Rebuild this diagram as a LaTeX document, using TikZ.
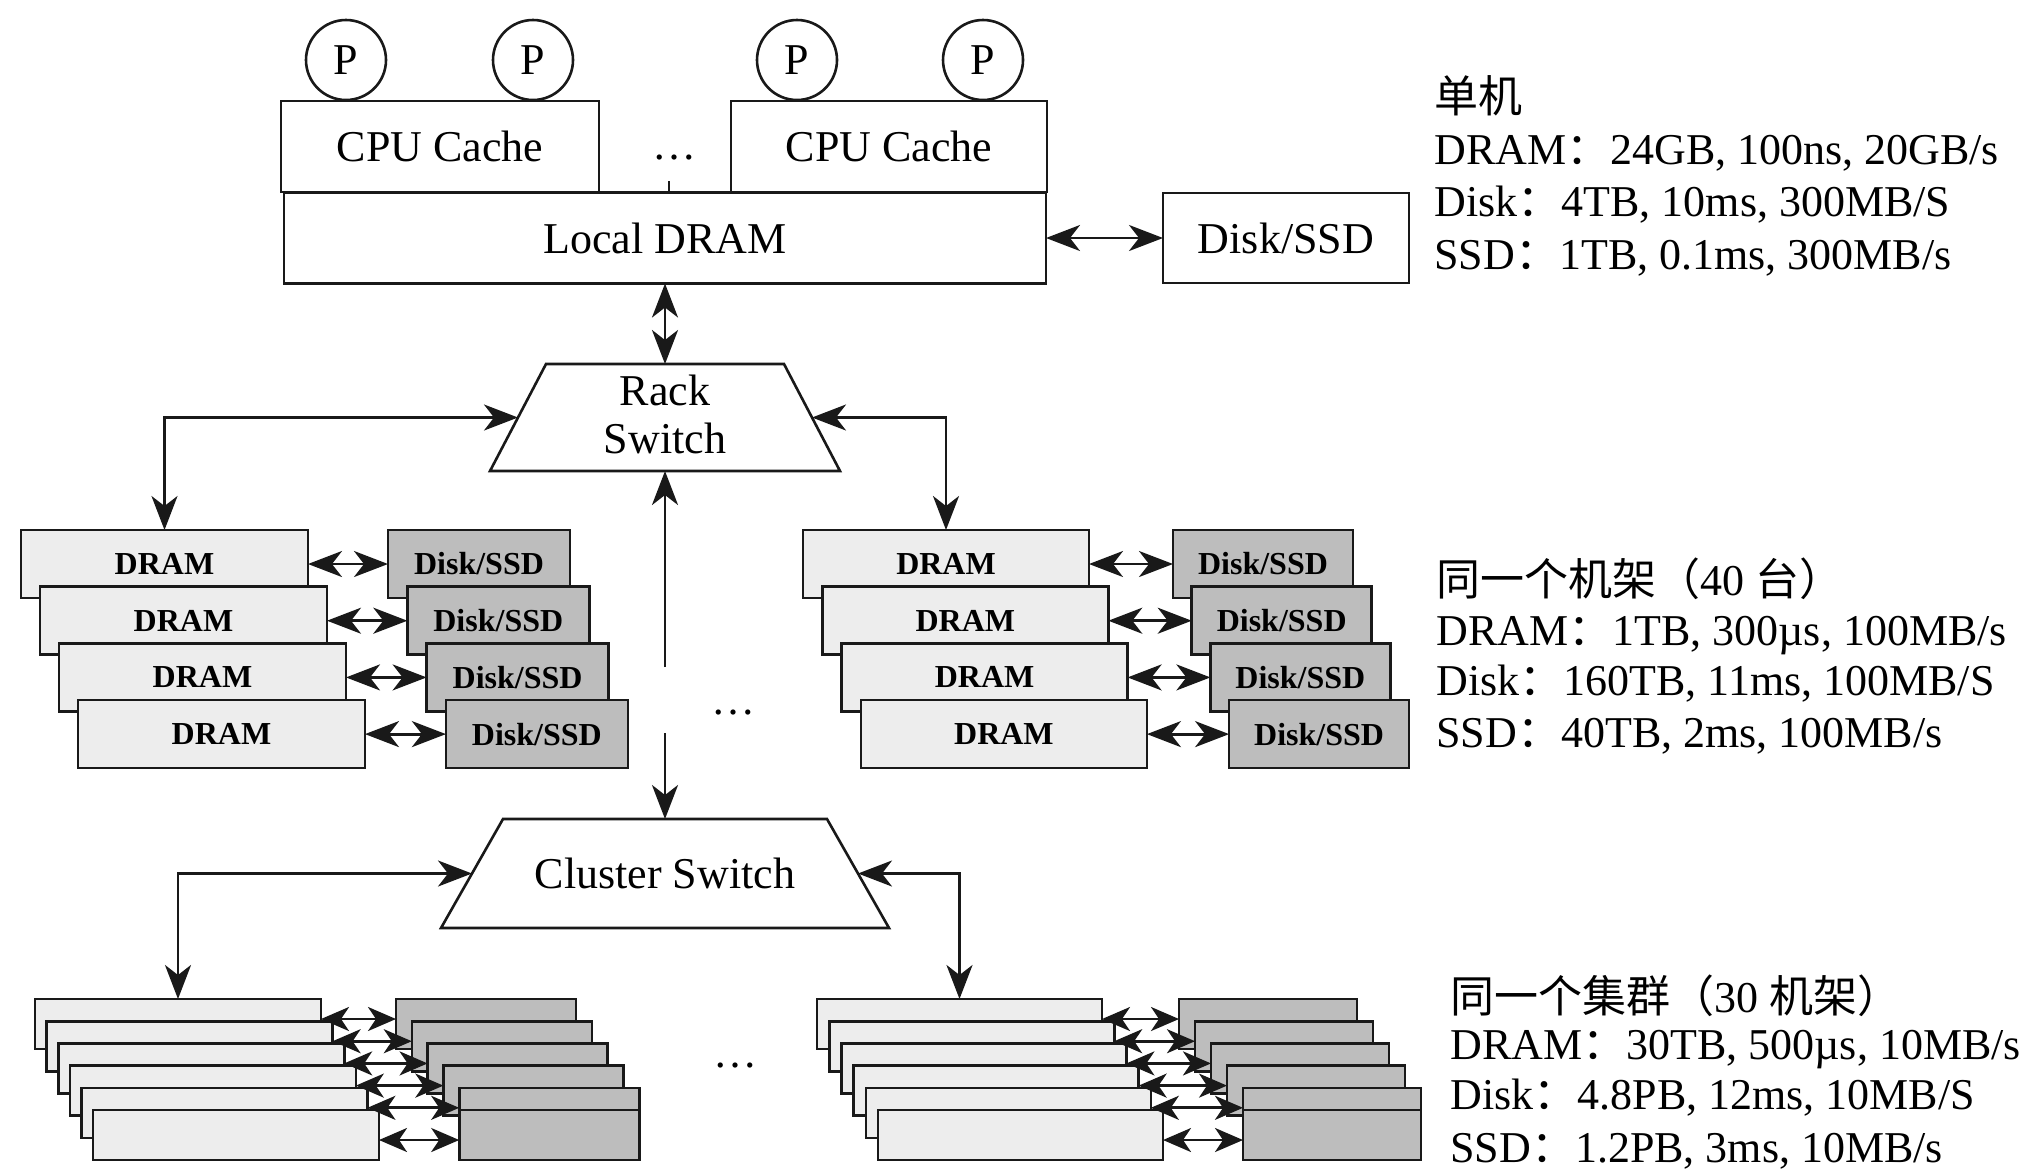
\documentclass[tikz,border=0pt]{standalone}
\usepackage{fontspec}
\setmainfont{Liberation Serif}
\newfontfamily\cjk{Noto Sans CJK SC}
\usetikzlibrary{arrows.meta,calc}
\definecolor{dramfill}{gray}{0.93}
\definecolor{diskfill}{gray}{0.74}
\definecolor{inkc}{gray}{0.1}
\begin{document}
\begin{tikzpicture}[x=0.5pt,y=-0.5pt,
  >={Stealth[length=17pt,width=13pt,inset=5pt]},
  ln/.style={line width=1.3pt, draw=inkc},
  con/.style={line width=1.4pt, draw=inkc},
  big/.style={font=\fontsize{22}{24}\selectfont},
  wbox/.style={ln, fill=white, rectangle, inner sep=0pt, outer sep=0pt, big},
  dram/.style={ln, fill=dramfill, rectangle, inner sep=0pt, outer sep=0pt, font=\bfseries\fontsize{16}{18}\selectfont},
  disk/.style={ln, fill=diskfill, rectangle, inner sep=0pt, outer sep=0pt, font=\bfseries\fontsize{16}{18}\selectfont},
  proc/.style={ln, fill=white, circle, inner sep=0pt, outer sep=0pt, minimum size=40pt, big},
  lbl/.style={anchor=base west, inner sep=0pt, big},
  dotsn/.style={inner sep=0pt, big},
]
\useasboundingbox (0,0) rectangle (2032,1169);

% ---------- single machine ----------
\node[wbox, minimum width=159pt, minimum height=45.5pt] (cache1) at (440,146.5) {CPU Cache};
\node[wbox, minimum width=158pt, minimum height=45.5pt] (cache2) at (889,146.5) {CPU Cache};
\node[wbox, minimum width=381pt, minimum height=45.5pt] (ldram) at (665,238) {Local DRAM};
\node[wbox, minimum width=123pt, minimum height=45pt] (disk0) at (1286,238) {Disk/SSD};
\node[proc] (p1) at (346,60) {P};
\node[proc] (p2) at (533,60) {P};
\node[proc] (p3) at (797,60) {P};
\node[proc] (p4) at (983,60) {P};
\node[dotsn] (dotsA) at (674,158) {\ldots};
\draw[con] ([xshift=2pt]ldram.north) -- ++(0,-12);
\draw[con,<->] (ldram.east) -- (disk0.west);

% ---------- rack switch ----------
\coordinate (rtl) at (546,364);
\coordinate (rtr) at (784,364);
\coordinate (rbr) at (840,471);
\coordinate (rbl) at (490,471);
\draw[ln, fill=white] (rtl) -- (rtr) -- (rbr) -- (rbl) -- cycle;
\node[big, align=center, inner sep=0pt] (rack) at (665,414) {Rack\\Switch};
\coordinate (rackL) at ($(rtl)!0.5!(rbl)$);
\coordinate (rackR) at ($(rtr)!0.5!(rbr)$);
\coordinate (rackT) at ($(rtl)!0.5!(rtr)$);
\coordinate (rackB) at ($(rbl)!0.5!(rbr)$);
\draw[con,<->] (ldram.south) -- (rackT);

% ---------- rack stacks ----------
\foreach \i in {0,...,3} {
  \node[dram, minimum width=143.5pt, minimum height=34pt] (rl\i) at ({164.5+19*\i},{564+56.7*\i}) {DRAM};
  \node[disk, minimum width=91pt, minimum height=34pt] (rk\i) at ({479+19.3*\i},{564+56.7*\i}) {Disk/SSD};
  \node[dram, minimum width=143pt, minimum height=34pt] (rr\i) at ({946+19.3*\i},{564+56.7*\i}) {DRAM};
  \node[disk, minimum width=90pt, minimum height=34pt] (rs\i) at ({1263+18.7*\i},{564+56.7*\i}) {Disk/SSD};
}
\foreach \i in {0,...,3} {
  \draw[con,<->] (rl\i.east) -- (rk\i.west);
  \draw[con,<->] (rr\i.east) -- (rs\i.west);
}
\draw[con,<->] (rackL) -| (rl0.north);
\draw[con,<->] (rackR) -| (rr0.north);
\node[dotsn] (dotsB) at (733,713) {\ldots};

% ---------- cluster switch ----------
\coordinate (ctl) at (503,819);
\coordinate (ctr) at (827,819);
\coordinate (cbr) at (889,928);
\coordinate (cbl) at (441,928);
\draw[ln, fill=white] (ctl) -- (ctr) -- (cbr) -- (cbl) -- cycle;
\node[big, inner sep=0pt] (clus) at (665,873) {Cluster Switch};
\coordinate (clusL) at ($(ctl)!0.5!(cbl)$);
\coordinate (clusR) at ($(ctr)!0.5!(cbr)$);
\coordinate (clusT) at ($(ctl)!0.5!(ctr)$);
\coordinate (gapA) at (665,667);
\coordinate (gapB) at (665,733);
\draw[con,->] (gapA) -- (rackB);
\draw[con,->] (gapB) -- (clusT);

% ---------- cluster stacks ----------
\foreach \i in {0,...,5} {
  \pgfmathsetmacro{\j}{min(\i,4)}
  \node[dram, minimum width=143pt, minimum height=25pt] (cl\i) at ({178+11.6*\i},{1024+22.2*\i}) {};
  \node[disk, minimum width=90pt, minimum height=25pt] (ck\i) at ({486+15.8*\j},{1024+22.2*\i}) {};
  \node[dram, minimum width=142.5pt, minimum height=25pt] (cr\i) at ({959.5+12.2*\i},{1024+22.2*\i}) {};
  \node[disk, minimum width=89pt, minimum height=25pt] (cs\i) at ({1268+16*\j},{1024+22.2*\i}) {};
}
\foreach \i in {0,...,5} {
  \pgfmathsetmacro{\ys}{\i<5 ? 10 : 15}
  \draw[con,{Stealth[length=14pt,width=12pt,inset=4pt]}-{Stealth[length=14pt,width=12pt,inset=4pt]}] ([yshift=-\ys pt]cl\i.north east) -- ([yshift=-\ys pt]ck\i.north west);
  \draw[con,{Stealth[length=14pt,width=12pt,inset=4pt]}-{Stealth[length=14pt,width=12pt,inset=4pt]}] ([yshift=-\ys pt]cr\i.north east) -- ([yshift=-\ys pt]cs\i.north west);
}
\draw[con,<->] (clusL) -| (cl0.north);
\draw[con,<->] (clusR) -| (cr0.north);
\node[dotsn] (dotsC) at (735,1065) {\ldots};

% ---------- right-hand texts ----------
\node[lbl] (t1a) at (1434,112) {{\cjk 单机}};
\node[lbl] (t1b) at (1434,164) {DRAM{\cjk ：}24GB, 100ns, 20GB/s};
\node[lbl] (t1c) at (1434,216) {Disk{\cjk ：}4TB, 10ms, 300MB/S};
\node[lbl] (t1d) at (1434,269) {SSD{\cjk ：}1TB, 0.1ms, 300MB/s};

\node[lbl] (t2a) at (1436,595) {{\cjk 同一个机架（}40 {\cjk 台）}};
\node[lbl] (t2b) at (1436,645) {DRAM{\cjk ：}1TB, 300µs, 100MB/s};
\node[lbl] (t2c) at (1436,695) {Disk{\cjk ：}160TB, 11ms, 100MB/S};
\node[lbl] (t2d) at (1436,747) {SSD{\cjk ：}40TB, 2ms, 100MB/s};

\node[lbl] (t3a) at (1450,1012) {{\cjk 同一个集群（}30 {\cjk 机架）}};
\node[lbl] (t3b) at (1450,1059) {DRAM{\cjk ：}30TB, 500µs, 10MB/s};
\node[lbl] (t3c) at (1450,1109) {Disk{\cjk ：}4.8PB, 12ms, 10MB/S};
\node[lbl] (t3d) at (1450,1162) {SSD{\cjk ：}1.2PB, 3ms, 10MB/s};
\end{tikzpicture}
\end{document}
